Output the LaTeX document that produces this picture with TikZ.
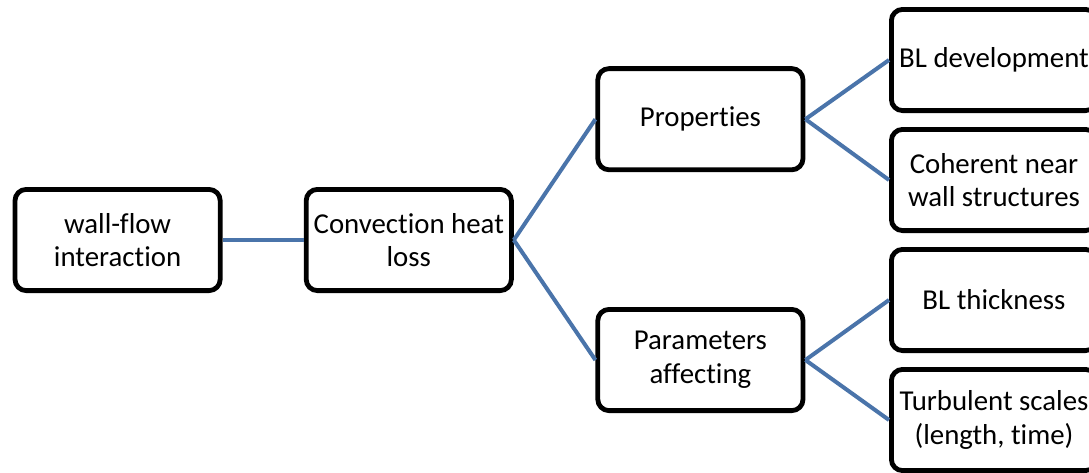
\documentclass[tikz,border=0pt]{standalone}
\usepackage{fontspec}
\setmainfont[Ligatures={NoCommon}]{Carlito}
\usepackage{tikz}
\usetikzlibrary{positioning}
\definecolor{linkblue}{RGB}{74,116,170}

\begin{document}
\begin{tikzpicture}[font=\fontsize{20.5}{24}\selectfont,
  box/.style={draw,line width=0.12cm,rounded corners=0.28cm,align=center,minimum width=5.13cm,minimum height=2.53cm,inner sep=2pt},
  link/.style={draw=linkblue,line width=0.1cm}]
\clip (0,0) rectangle (27.225,-11.8);
\node[box] (W) at (2.94,-6.0) {wall-flow\\ interaction};
\node[box] (C) at (10.22,-6.0) {Convection heat\\ loss};
\node[box] (P) at (17.51,-2.98) {Properties};
\node[box] (A) at (17.51,-9.0) {Parameters\\ affecting};
\node[box] (D) at (24.85,-1.5) {BL development};
\node[box] (S) at (24.85,-4.5) {Coherent near\\ wall structures};
\node[box] (T) at (24.85,-7.5) {BL thickness};
\node[box] (L) at (24.85,-10.5) {Turbulent scales\\ (length, time)};
\draw[link] (W) -- (C);
\draw[link] (C.east) -- (P.west);
\draw[link] (C.east) -- (A.west);
\draw[link] (P.east) -- (D.west);
\draw[link] (P.east) -- (S.west);
\draw[link] (A.east) -- (T.west);
\draw[link] (A.east) -- (L.west);
\end{tikzpicture}
\end{document}
